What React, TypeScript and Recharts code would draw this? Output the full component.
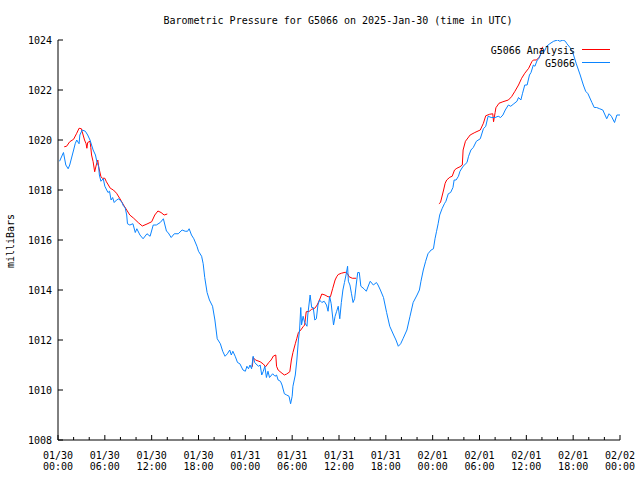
import React from 'react';
import { LineChart, Line, XAxis, YAxis } from 'recharts';

const FONT = "'DejaVu Sans Mono', 'Liberation Mono', monospace";
const BLUE = '#0a84ff';
const RED = '#ff0000';

const W = 640;
const H = 480;
const M = { top: 40, right: 20, bottom: 0, left: 0 };
const Y_AXIS_W = 58;
const X_AXIS_H = 40;
const PLOT_LEFT = M.left + Y_AXIS_W;
const PLOT_RIGHT = W - M.right;
const PLOT_TOP = M.top;
const PLOT_BOTTOM = H - M.bottom - X_AXIS_H;

// hours since 2025-01-30 00:00 UTC
const blueHours = [
  0.2, 0.7, 1.0, 1.3, 1.5, 2.0, 2.2, 2.4, 2.7, 2.8,
  3.1, 3.5, 3.8, 4.1, 4.3, 4.5, 4.8, 5.0, 5.2, 5.3,
  5.5, 5.8, 6.0, 6.4, 6.6, 6.8, 7.0, 7.2, 7.5, 7.8,
  8.2, 8.4, 8.6, 8.8, 8.9, 9.2, 9.6, 9.9, 10.1, 10.5,
  10.9, 11.4, 11.8, 12.2, 12.6, 13.1, 13.5, 13.7, 13.9, 14.1,
  14.5, 14.9, 15.4, 15.9, 16.3, 16.6, 16.8, 17.1, 17.4, 17.8,
  18.0, 18.4, 18.6, 18.8, 19.1, 19.4, 19.8, 20.1, 20.4, 20.8,
  21.1, 21.4, 21.7, 22.0, 22.2, 22.4, 22.7, 23.0, 23.3, 23.7,
  24.0, 24.2, 24.4, 24.6, 24.8, 25.0, 25.2, 25.5, 25.7, 25.9,
  26.1, 26.3, 26.5, 26.7, 26.9, 27.1, 27.5, 27.8, 28.0, 28.2,
  28.5, 28.7, 29.0, 29.3, 29.6, 29.8, 30.0, 30.1, 30.4, 30.6,
  30.8, 30.95, 31.1, 31.2, 31.4, 31.6, 31.9, 32.0, 32.3, 32.5,
  32.7, 32.9, 33.1, 33.3, 33.5, 33.8, 34.1, 34.4, 34.6, 34.8,
  35.0, 35.3, 35.5, 35.7, 35.9, 36.1, 36.3, 36.5, 36.7, 36.9,
  37.1, 37.2, 37.4, 37.6, 37.8, 38.0, 38.2, 38.4, 38.6, 38.8,
  39.2, 39.5, 39.8, 40.0, 40.4, 40.8, 41.0, 41.3, 41.7, 42.1,
  42.5, 43.0, 43.3, 43.6, 43.9, 44.2, 44.7, 45.1, 45.5, 46.0,
  46.3, 46.5, 46.8, 47.1, 47.4, 47.8, 48.1, 48.3, 48.5, 48.7,
  48.9, 49.2, 49.5, 49.7, 50.0, 50.3, 50.6, 50.75, 51.0, 51.3,
  51.5, 51.9, 52.4, 52.6, 52.9, 53.2, 53.6, 54.1, 54.5, 54.8,
  55.1, 55.5, 56.0, 56.4, 56.7, 57.0, 57.3, 57.7, 58.0, 58.4,
  58.8, 59.0, 59.3, 59.5, 59.8, 60.1, 60.4, 60.6, 60.9, 61.1,
  61.4, 61.6, 61.8, 62.0, 62.2, 62.4, 62.6, 63.0, 63.5, 64.0,
  64.3, 64.7, 65.0, 65.2, 65.6, 66.0, 66.4, 66.9, 67.3, 67.6,
  67.9, 68.4, 68.7, 69.0, 69.4, 69.8, 70.3, 70.6, 70.9, 71.3,
  71.6, 72.0,
];

const blueValues = [
  1019.15, 1019.5, 1019.0, 1018.85, 1019.0, 1019.6, 1019.85, 1020.0, 1019.85, 1020.2,
  1020.4, 1020.35, 1020.2, 1020.0, 1019.8, 1019.6, 1019.4, 1019.1, 1018.95, 1018.6,
  1018.35, 1018.45, 1018.15, 1017.9, 1017.95, 1017.6, 1017.7, 1017.5, 1017.6, 1017.65,
  1017.5, 1017.35, 1017.3, 1017.0, 1016.65, 1016.6, 1016.65, 1016.3, 1016.45, 1016.2,
  1016.05, 1016.25, 1016.15, 1016.6, 1016.6, 1016.7, 1016.85, 1016.6, 1016.35, 1016.3,
  1016.1, 1016.25, 1016.25, 1016.4, 1016.35, 1016.35, 1016.45, 1016.2, 1016.05, 1015.75,
  1015.55, 1015.35, 1015.05, 1014.5, 1013.9, 1013.6, 1013.35, 1012.8, 1012.05, 1011.85,
  1011.55, 1011.35, 1011.45, 1011.6, 1011.4, 1011.55, 1011.35, 1011.1, 1011.05, 1010.8,
  1010.75, 1010.95, 1010.85, 1011.0, 1010.85, 1011.35, 1011.1, 1011.0, 1010.95, 1011.0,
  1010.6, 1010.75, 1010.95, 1010.5, 1010.75, 1010.5, 1010.65, 1010.55, 1010.6, 1010.4,
  1010.35, 1010.2, 1009.85, 1009.8, 1009.75, 1009.45, 1009.75, 1010.15, 1010.6, 1011.2,
  1012.0, 1012.4, 1013.3, 1012.6, 1012.95, 1012.7, 1012.55, 1013.0, 1013.8, 1013.3,
  1013.3, 1012.8, 1012.85, 1013.4, 1013.6, 1013.5, 1013.55, 1013.4, 1013.15, 1013.75,
  1013.45, 1012.6, 1012.95, 1013.15, 1013.35, 1012.85, 1013.5, 1014.0, 1014.3, 1014.6,
  1014.95, 1014.35, 1014.2, 1013.85, 1013.5, 1013.65, 1014.2, 1014.7, 1014.7, 1014.15,
  1014.05, 1013.95, 1014.2, 1014.35, 1014.2, 1014.3, 1014.2, 1014.0, 1013.7, 1013.1,
  1012.55, 1012.2, 1012.0, 1011.75, 1011.85, 1012.05, 1012.4, 1012.95, 1013.5, 1013.8,
  1014.0, 1014.35, 1014.8, 1015.15, 1015.45, 1015.6, 1015.65, 1016.05, 1016.35, 1016.65,
  1017.0, 1017.25, 1017.45, 1017.55, 1017.85, 1017.9, 1018.1, 1018.4, 1018.4, 1018.55,
  1018.75, 1018.95, 1019.1, 1019.35, 1019.6, 1019.7, 1019.95, 1020.05, 1020.45, 1020.55,
  1020.95, 1020.9, 1020.9, 1020.95, 1020.9, 1021.0, 1021.2, 1021.4, 1021.35, 1021.45,
  1021.55, 1021.7, 1021.6, 1021.85, 1022.2, 1022.2, 1022.6, 1022.7, 1023.0, 1022.95,
  1023.2, 1023.25, 1023.4, 1023.6, 1023.5, 1023.6, 1023.75, 1023.85, 1023.95, 1024.0,
  1023.95, 1024.0, 1023.95, 1023.85, 1023.7, 1023.45, 1023.05, 1022.6, 1022.2, 1021.95,
  1021.85, 1021.5, 1021.3, 1021.3, 1021.25, 1021.2, 1020.85, 1021.05, 1020.95, 1020.7,
  1021.0, 1021.0,
];

const redHours = [
  0.8, 1.1, 1.5, 2.0, 2.4, 2.7, 3.0, 3.1, 3.4, 3.6,
  3.7, 3.8, 4.1, 4.2, 4.3, 4.5, 4.7, 4.9, 5.1, 5.2,
  5.5, 5.7, 6.0, 6.2, 6.7, 7.1, 7.5, 7.9, 8.4, 8.8,
  9.2, 9.7, 10.3, 10.8, 11.4, 12.0, 12.4, 12.8, 13.2, 13.6,
  14.0, 14.5,
  24.9, 25.0, 25.3, 25.9, 26.3, 26.6, 27.0, 27.3, 27.6, 27.9,
  28.0, 28.2, 28.7, 29.0, 29.3, 29.7, 29.9, 30.1, 30.4, 30.6,
  30.8, 31.1, 31.4, 31.6, 31.8, 32.2, 32.5, 32.9, 33.2, 33.5,
  33.8, 34.2, 34.6, 34.9, 35.2, 35.5, 35.7, 35.9, 36.3, 36.8,
  37.1, 37.3, 37.7, 38.2, 38.5,
  48.8, 49.0, 49.4, 49.6, 49.8, 50.2, 50.5, 50.8, 51.1, 51.5,
  51.8, 51.9, 52.2, 52.8, 53.4, 54.1, 54.5, 54.8, 55.3, 55.7,
  55.8, 56.0, 56.1, 56.5, 57.0, 57.7, 58.1, 58.5, 59.0, 59.4,
  59.8, 60.3, 60.7, 60.9, 61.3, 61.6, 61.8, 61.9, 62.1,
];

const redValues: (number | null)[] = [
  1019.73, 1019.75, 1019.93, 1020.03, 1020.27, 1020.47, 1020.45, 1020.33, 1020.0, 1019.85,
  1019.67, 1019.9, 1019.95, 1019.7, 1019.4, 1019.13, 1018.73, 1019.0, 1019.2, 1018.95,
  1018.53, 1018.47, 1018.47, 1018.33, 1018.07, 1018.0, 1017.87, 1017.67, 1017.4, 1017.2,
  1017.0, 1016.87, 1016.69, 1016.56, 1016.64, 1016.73, 1017.0, 1017.16, 1017.1, 1017.0,
  1017.04, null,
  1010.93, 1011.3, 1011.2, 1011.13, 1011.04, 1010.93, 1011.1, 1011.2, 1011.36, 1011.4,
  1010.95, 1010.8, 1010.67, 1010.6, 1010.64, 1010.73, 1011.2, 1011.5, 1011.85, 1012.07,
  1012.3, 1012.4, 1012.53, 1012.6, 1013.13, 1013.15, 1013.23, 1013.27, 1013.4, 1013.6,
  1013.84, 1013.8, 1013.73, 1013.73, 1014.07, 1014.4, 1014.53, 1014.62, 1014.67, 1014.71,
  1014.65, 1014.53, 1014.47, 1014.47, null,
  1017.45, 1017.5, 1018.0, 1018.27, 1018.4, 1018.51, 1018.55, 1018.8, 1018.87, 1018.93,
  1019.0, 1019.6, 1019.95, 1020.2, 1020.3, 1020.4, 1020.67, 1020.97, 1021.03, 1021.05,
  1020.73, 1021.1, 1021.29, 1021.47, 1021.53, 1021.6, 1021.73, 1021.93, 1022.2, 1022.47,
  1022.67, 1022.87, 1023.13, 1023.2, 1023.2, 1023.3, 1023.4, 1023.6, 1023.73,
];

const xTicks = [
  0, 2, 4, 6, 8, 10, 12, 14, 16, 18, 20, 22, 24, 26, 28, 30, 32, 34, 36,
  38, 40, 42, 44, 46, 48, 50, 52, 54, 56, 58, 60, 62, 64, 66, 68, 70, 72,
];
const dateLabels = ['01/30', '01/30', '01/30', '01/30', '01/31', '01/31', '01/31', '01/31', '02/01', '02/01', '02/01', '02/01', '02/02'];
const timeLabels = ['00:00', '06:00', '12:00', '18:00', '00:00', '06:00', '12:00', '18:00', '00:00', '06:00', '12:00', '18:00', '00:00'];
const yTicks = [1008, 1010, 1012, 1014, 1016, 1018, 1020, 1022, 1024];

const blueData = blueHours.map((h, i) => ({ h, v: blueValues[i] }));
const redData = redHours.map((h, i) => ({ h, v: redValues[i] }));

const MAJOR = 5;
const MINOR = 3;

function BottomTick(props: any) {
  const { x, payload } = props;
  const h = payload.value;
  const major = h % 6 === 0;
  const i = h / 6;
  const y = PLOT_BOTTOM;
  return (
    <g>
      <line x1={x} y1={y} x2={x} y2={y - (major ? MAJOR : MINOR)} stroke="#000" strokeWidth={1} />
      {major && (
        <text x={x} y={y + 19} textAnchor="middle" fontFamily={FONT} fontSize={10} fill="#000">
          <tspan x={x} dy={0}>{dateLabels[i]}</tspan>
          <tspan x={x} dy={11}>{timeLabels[i]}</tspan>
        </text>
      )}
    </g>
  );
}

function TopTick(props: any) {
  const { x, payload } = props;
  const major = payload.value % 6 === 0;
  const y = PLOT_TOP;
  return <line x1={x} y1={y} x2={x} y2={y + (major ? MAJOR : MINOR)} stroke="#000" strokeWidth={1} />;
}

function LeftTick(props: any) {
  const { y, payload } = props;
  const x = PLOT_LEFT;
  return (
    <g>
      <line x1={x} y1={y} x2={x + MAJOR} y2={y} stroke="#000" strokeWidth={1} />
      <text x={x - 6} y={y + 3.5} textAnchor="end" fontFamily={FONT} fontSize={10} fill="#000">
        {payload.value}
      </text>
    </g>
  );
}

function RightTick(props: any) {
  const { y } = props;
  const x = PLOT_RIGHT;
  return <line x1={x} y1={y} x2={x - MAJOR} y2={y} stroke="#000" strokeWidth={1} />;
}

export default function App() {
  return (
    <div style={{ position: 'absolute', left: 0, top: 0, width: W, height: H, background: '#fff' }}>
      <LineChart width={W} height={H} margin={M}>
        <XAxis
          xAxisId="bottom"
          dataKey="h"
          type="number"
          domain={[0, 72]}
          allowDataOverflow
          ticks={xTicks}
          interval={0}
          height={X_AXIS_H}
          tickSize={0}
          tickMargin={0}
          tickLine={false}
          axisLine={{ stroke: '#000', strokeWidth: 1 }}
          tick={<BottomTick />}
        />
        <XAxis
          xAxisId="top"
          orientation="top"
          dataKey="h"
          type="number"
          domain={[0, 72]}
          allowDataOverflow
          ticks={xTicks}
          interval={0}
          height={0}
          tickSize={0}
          tickMargin={0}
          tickLine={false}
          axisLine={{ stroke: '#000', strokeWidth: 1 }}
          tick={<TopTick />}
        />
        <YAxis
          yAxisId="left"
          type="number"
          domain={[1008, 1024]}
          allowDataOverflow
          ticks={yTicks}
          interval={0}
          width={Y_AXIS_W}
          tickSize={0}
          tickMargin={0}
          tickLine={false}
          axisLine={{ stroke: '#000', strokeWidth: 1 }}
          tick={<LeftTick />}
        />
        <YAxis
          yAxisId="right"
          orientation="right"
          type="number"
          domain={[1008, 1024]}
          allowDataOverflow
          ticks={yTicks}
          interval={0}
          width={0}
          tickSize={0}
          tickMargin={0}
          tickLine={false}
          axisLine={{ stroke: '#000', strokeWidth: 1 }}
          tick={<RightTick />}
        />
        <Line
          xAxisId="bottom"
          yAxisId="left"
          data={redData}
          dataKey="v"
          type="linear"
          stroke={RED}
          strokeWidth={1}
          dot={false}
          activeDot={false}
          connectNulls={false}
          isAnimationActive={false}
          name="G5066 Analysis"
        />
        <Line
          xAxisId="bottom"
          yAxisId="left"
          data={blueData}
          dataKey="v"
          type="linear"
          stroke={BLUE}
          strokeWidth={1}
          dot={false}
          activeDot={false}
          isAnimationActive={false}
          name="G5066"
        />
      </LineChart>
      <svg
        width={W}
        height={H}
        style={{ position: 'absolute', left: 0, top: 0, pointerEvents: 'none' }}
      >
        <text x={338} y={24} textAnchor="middle" fontFamily={FONT} fontSize={10} fill="#000">
          Barometric Pressure for G5066 on 2025-Jan-30 (time in UTC)
        </text>
        <text
          x={0}
          y={0}
          transform="translate(14,241) rotate(-90)"
          textAnchor="middle"
          fontFamily={FONT}
          fontSize={10}
          fill="#000"
        >
          milliBars
        </text>
        <text x={575} y={54} textAnchor="end" fontFamily={FONT} fontSize={10} fill="#000">
          G5066 Analysis
        </text>
        <line x1={582} y1={49.5} x2={610} y2={49.5} stroke={RED} strokeWidth={1} />
        <text x={575} y={67} textAnchor="end" fontFamily={FONT} fontSize={10} fill="#000">
          G5066
        </text>
        <line x1={582} y1={62.5} x2={610} y2={62.5} stroke={BLUE} strokeWidth={1} />
      </svg>
    </div>
  );
}
